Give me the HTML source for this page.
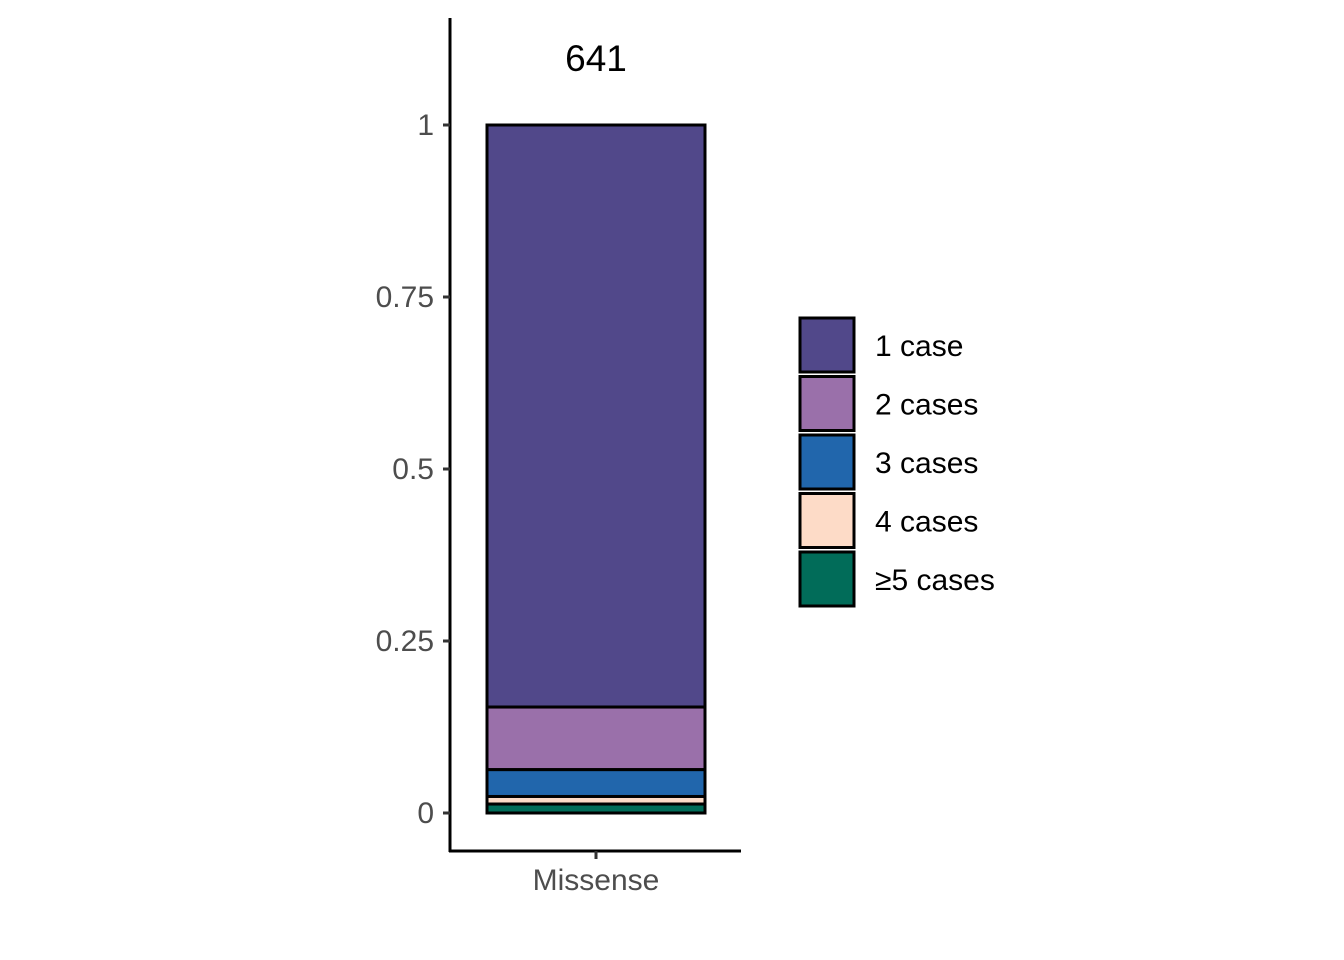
<!DOCTYPE html>
<html><head><meta charset="utf-8"><style>
html,body{margin:0;padding:0;background:#fff;}
svg{display:block;font-family:"Liberation Sans",sans-serif;}
</style></head><body>
<svg id="chart" width="1344" height="960"></svg>
<script>
const categories = ["Missense"];
const seriesNames = ["1 case","2 cases","3 cases","4 cases","≥5 cases"];
const seriesValues = [0.846, 0.091, 0.039, 0.011, 0.013];
const seriesColors = ["#51488a","#9a70aa","#2166ac","#fddbc7","#016c59"];
const totalLabels = ["641"];
const yTicks = [0, 0.25, 0.5, 0.75, 1];
const yTickLabels = ["0","0.25","0.5","0.75","1"];

const NS = "http://www.w3.org/2000/svg";
const svg = document.getElementById("chart");
function el(tag, attrs, parent){ const e=document.createElementNS(NS,tag); for(const k in attrs) e.setAttribute(k,attrs[k]); (parent||svg).appendChild(e); return e; }
const y0=813, y1=125;
const yScale = v => y0 - v*(y0-y1);
const xCenter = i => 596 + i*220;
const barHalf = 109;

let a=el("line",{x1:450,y1:18,x2:450,y2:852,stroke:"#000","stroke-width":3});


a=el("line",{x1:449,y1:851,x2:741,y2:851,stroke:"#000","stroke-width":3});



yTicks.forEach((t,i)=>{
  const y=yScale(t);
  const tk=el("line",{x1:443,y1:y,x2:450,y2:y,stroke:"#333","stroke-width":3});
  
  
  const tx=el("text",{x:434,y:y+10,"text-anchor":"end","font-size":30,fill:"#4d4d4d"});
  tx.textContent=yTickLabels[i];
  
  
});

categories.forEach((c,ci)=>{
  const cx=xCenter(ci);
  const tk=el("line",{x1:cx,y1:851,x2:cx,y2:859,stroke:"#333","stroke-width":3});
  
  
  const tx=el("text",{x:cx,y:890,"text-anchor":"middle","font-size":30,fill:"#4d4d4d"});
  tx.textContent=c;
  
  
  let cum = seriesValues.reduce((s,v)=>s+v,0);
  seriesValues.forEach((v,si)=>{
    const top=yScale(cum), bot=yScale(cum-v);
    const r=el("rect",{x:cx-barHalf,y:top,width:barHalf*2,height:bot-top,fill:seriesColors[si],stroke:"#000","stroke-width":3});
    
    
    cum-=v;
  });
  const tl=el("text",{x:cx,y:71,"text-anchor":"middle","font-size":37,fill:"#000"});
  tl.textContent=totalLabels[ci];
  
  
});

seriesNames.forEach((n,i)=>{
  const y=318+i*58.5;
  const r=el("rect",{x:800,y:y,width:54,height:54,fill:seriesColors[i],stroke:"#000","stroke-width":3});
  
  
  const t=el("text",{x:875,y:y+38,"font-size":30,fill:"#000"});
  t.textContent=n;
  
  
});
</script>
</body></html>
